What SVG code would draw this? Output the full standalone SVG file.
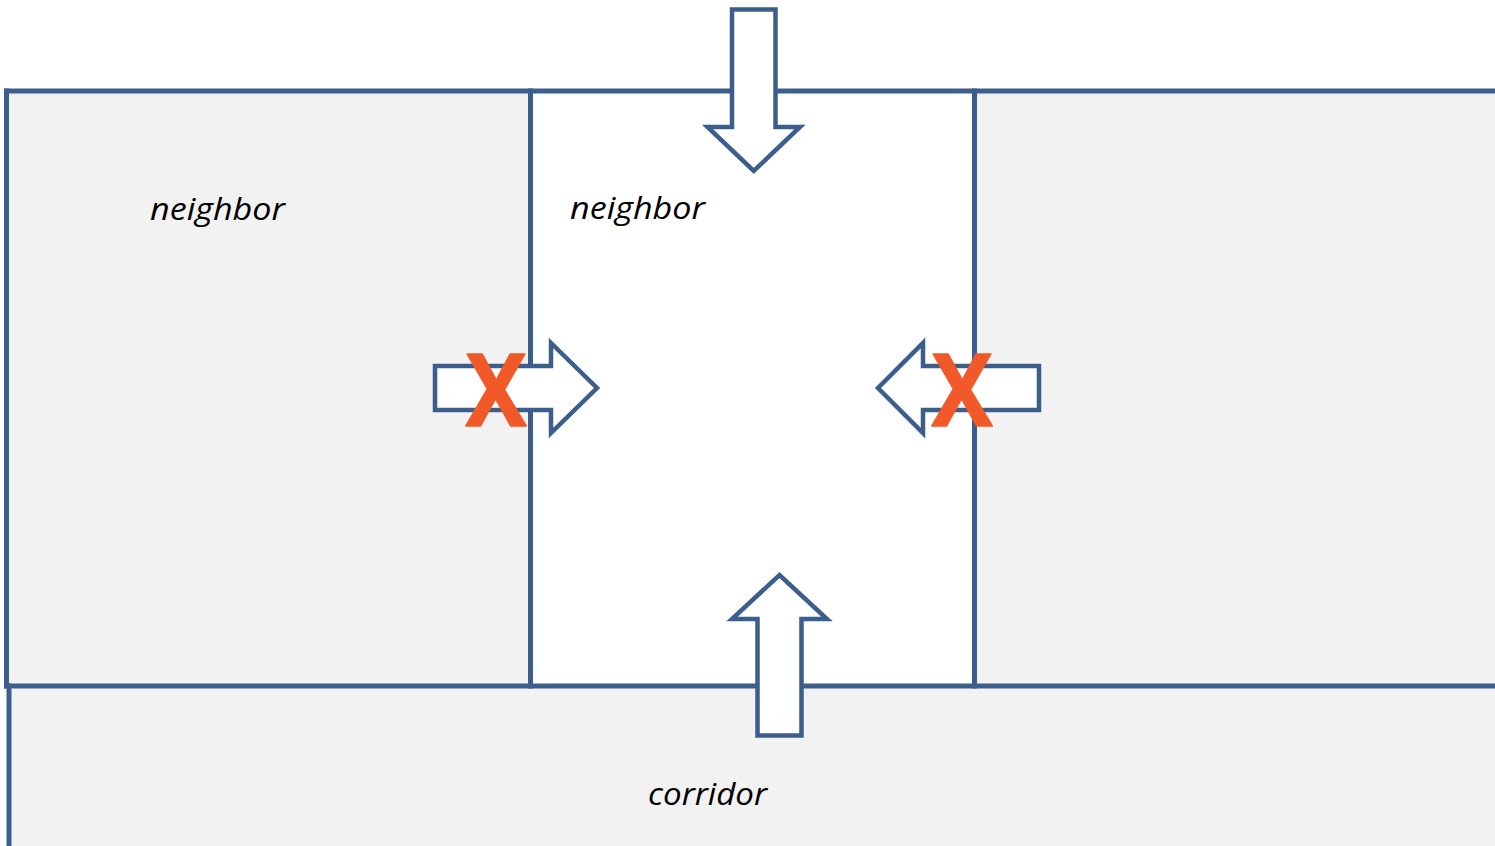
<svg xmlns="http://www.w3.org/2000/svg" width="1495" height="846" viewBox="0 0 1495 846">
  <style>
    .wall{fill:none;stroke:#3B5E8C;stroke-width:5;stroke-linecap:square}
    .room{fill:#F2F2F2;stroke:none}
    .arrow{fill:#FFFFFF;stroke:#3B5E8C;stroke-width:4.5;stroke-linejoin:miter}
    .lbl{font-family:"Open Sans","Liberation Sans",Arial,sans-serif;font-style:italic;font-size:31px;fill:#000}
    .x{font-family:"Open Sans","Liberation Sans",Arial,sans-serif;font-weight:bold;font-size:101px;fill:#F15A28;stroke:#F15A28;stroke-width:1.5;stroke-linejoin:round;text-anchor:middle}
  </style>
  <rect width="1495" height="846" fill="#FFFFFF"/>
  <g id="room-left-neighbor">
    <rect class="room" x="7" y="91" width="523" height="595"/>
    <text class="lbl" x="150" y="220" textLength="135" lengthAdjust="spacingAndGlyphs">neighbor</text>
  </g>
  <g id="room-center">
    <rect x="530" y="91" width="445" height="595" fill="#FFFFFF"/>
    <text class="lbl" x="570" y="219" textLength="135" lengthAdjust="spacingAndGlyphs">neighbor</text>
  </g>
  <g id="room-right">
    <rect class="room" x="975" y="91" width="525" height="595"/>
  </g>
  <g id="corridor">
    <rect class="room" x="9" y="686" width="1490" height="165"/>
    <text class="lbl" x="648" y="805" textLength="119" lengthAdjust="spacingAndGlyphs">corridor</text>
  </g>
  <g id="walls">
    <path class="wall" d="M6.5,91 H1500"/>
    <path class="wall" d="M6.5,91 V686"/>
    <path class="wall" d="M530.5,91 V686"/>
    <path class="wall" d="M974.5,91 V686"/>
    <path class="wall" d="M6.5,686 H1500"/>
    <path class="wall" d="M9,686 V850"/>
  </g>
  <g id="connectors">
    <path id="arrow-top" class="arrow" d="M732,9.5 L775.5,9.5 L775.5,127 L800,127 L753.75,171 L707.5,127 L732,127 Z"/>
    <path id="arrow-left" class="arrow" d="M435,366 L551,366 L551,343 L597,388 L551,433 L551,410 L435,410 Z"/>
    <path id="arrow-right" class="arrow" d="M1039,366 L923,366 L923,343 L878,388 L923,433 L923,410 L1039,410 Z"/>
    <path id="arrow-bottom" class="arrow" d="M757.5,735.5 L801.5,735.5 L801.5,619 L827,619 L779.5,575 L732,619 L757.5,619 Z"/>
  </g>
  <g id="blocked-marks">
    <text class="x" transform="translate(496,426) scale(0.9,1)">X</text>
    <text class="x" transform="translate(962,426) scale(0.9,1)">X</text>
  </g>
</svg>
